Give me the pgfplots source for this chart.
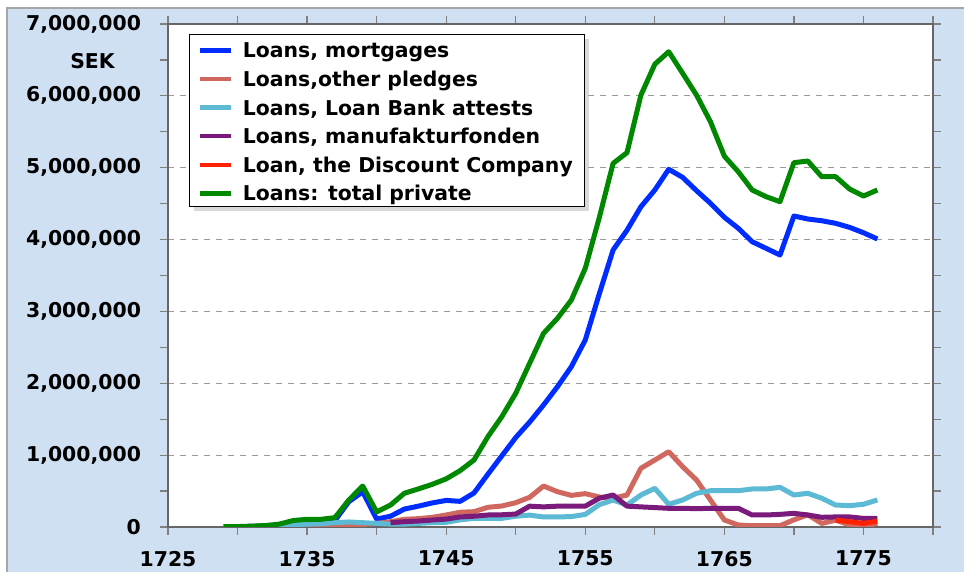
\documentclass[border=0pt]{standalone}
\usepackage{pgfplots}
\pgfplotsset{compat=1.18}
\usepackage{fontspec}
\setmainfont{DejaVu Sans}
\usetikzlibrary{shadows}

\definecolor{bgblue}{RGB}{207,224,242}
\definecolor{cMort}{RGB}{0,45,255}
\definecolor{cPledge}{RGB}{208,104,96}
\definecolor{cAttest}{RGB}{92,186,212}
\definecolor{cManu}{RGB}{122,26,122}
\definecolor{cDisc}{RGB}{255,34,0}
\definecolor{cTotal}{RGB}{0,136,0}

\begin{document}
\begin{tikzpicture}
\useasboundingbox (0,0) rectangle (482pt,286pt);
\fill[white] (0,0) rectangle (482pt,286pt);
\fill[bgblue] (3.5pt,0) rectangle (482pt,282pt);
\draw[gray!70, line width=0.8pt] (3.5pt,0) -- (3.5pt,282pt) -- (482pt,282pt);

\begin{axis}[
    at={(84pt,22.5pt)}, anchor=south west,
    scale only axis,
    width=382.5pt, height=251.5pt,
    xmin=1725, xmax=1780,
    ymin=0, ymax=7000000,
    xtick={1725,1735,...,1775},
    minor xtick={1730,1740,...,1780},
    ytick={0,1000000,...,7000000},
    minor ytick={500000,1500000,...,6500000},
    tick align=outside,
    major tick length=4pt, minor tick length=4pt,
    tick style={gray, line width=0.6pt},
    axis line style={gray!80!black, line width=0.6pt},
    axis background/.style={fill=white},
    ymajorgrids=true,
    grid style={dashed, gray!80, line width=0.5pt},
    scaled y ticks=false,
    ticklabel style={font=\fontsize{10.2}{12}\selectfont\bfseries},
    xticklabel style={/pgf/number format/.cd, fixed, 1000 sep={}, assume math mode=true, /tikz/.cd, yshift=-4.5pt},
    yticklabel style={/pgf/number format/.cd, fixed, 1000 sep={,}, assume math mode=true, /tikz/.cd, xshift=-6pt},
    legend cell align=left,
    legend style={
        at={(0.0275,0.98)}, anchor=north west,
        draw=black, line width=0.5pt, fill=white,
        drop shadow={shadow xshift=2pt, shadow yshift=-2pt, fill=gray!60},
        font=\fontsize{10.2}{12}\selectfont\bfseries,
        inner xsep=4pt, inner ysep=0.15pt,
        row sep=0pt,
        nodes={text height=9.2pt, text depth=0.5pt, inner ysep=2.3pt},
        /tikz/every odd column/.style={column sep=3pt},
    },
    legend image code/.code={\begin{scope}[#1]
        \pgfsetlinewidth{2.2pt}
        \pgfpathmoveto{\pgfpoint{0pt}{-0.6pt}}
        \pgfpathlineto{\pgfpoint{15.5pt}{-0.6pt}}
        \pgfusepath{stroke}\end{scope}},
    every axis plot/.append style={line width=2.5pt, line join=round},
]

% Loans, mortgages
\addplot[cMort] coordinates {
(1729,2000) (1730,4000) (1731,8000) (1732,15000) (1733,25000) (1734,40000)
(1735,50000) (1736,55000) (1737,90000) (1738,352000) (1739,490000) (1740,110000)
(1741,150000) (1742,250000) (1743,290000) (1744,335000) (1745,370000) (1746,357000)
(1747,473000) (1748,735000) (1749,990000) (1750,1245000) (1751,1460000) (1752,1698000)
(1753,1952000) (1754,2231000) (1755,2602000) (1756,3240000) (1757,3855000) (1758,4130000)
(1759,4457000) (1760,4690000) (1761,4978000) (1762,4866000) (1763,4680000) (1764,4505000)
(1765,4310000) (1766,4157000) (1767,3970000) (1768,3878000) (1769,3785000) (1770,4328000)
(1771,4286000) (1772,4262000) (1773,4226000) (1774,4170000) (1775,4095000) (1776,4008000)
};
\addlegendentry{Loans, mortgages}

% Loans, other pledges
\addplot[cPledge] coordinates {
(1729,1000) (1730,2000) (1731,3000) (1732,4000) (1733,5000) (1734,7000)
(1735,10000) (1736,12000) (1737,20000) (1738,30000) (1739,35000) (1740,50000)
(1741,74000) (1742,107000) (1743,116000) (1744,135000) (1745,167000) (1746,205000)
(1747,213000) (1748,274000) (1749,292000) (1750,338000) (1751,413000) (1752,570000)
(1753,491000) (1754,440000) (1755,464000) (1756,418000) (1757,400000) (1758,445000)
(1759,817000) (1760,932000) (1761,1048000) (1762,839000) (1763,654000) (1764,376000)
(1765,97000) (1766,28000) (1767,18000) (1768,18000) (1769,18000) (1770,100000)
(1771,170000) (1772,50000) (1773,95000) (1774,30000) (1775,15000) (1776,50000)
};
\addlegendentry{Loans,other pledges}

% Loans, Loan Bank attests
\addplot[cAttest] coordinates {
(1729,3000) (1730,5000) (1731,8000) (1732,12000) (1733,20000) (1734,30000)
(1735,40000) (1736,45000) (1737,60000) (1738,70000) (1739,60000) (1740,50000)
(1741,40000) (1742,40000) (1743,50000) (1744,60000) (1745,65000) (1746,100000)
(1747,120000) (1748,120000) (1749,120000) (1750,150000) (1751,165000) (1752,140000)
(1753,140000) (1754,145000) (1755,175000) (1756,310000) (1757,376000) (1758,306000)
(1759,445000) (1760,538000) (1761,316000) (1762,376000) (1763,469000) (1764,505000)
(1765,505000) (1766,505000) (1767,529000) (1768,529000) (1769,552000) (1770,445000)
(1771,469000) (1772,400000) (1773,306000) (1774,297000) (1775,316000) (1776,376000)
};
\addlegendentry{Loans, Loan Bank attests}

% Loans, manufakturfonden
\addplot[cManu] coordinates {
(1741,60000) (1742,74000) (1743,83000) (1744,97000) (1745,110000) (1746,140000)
(1747,150000) (1748,167000) (1749,170000) (1750,180000) (1751,290000) (1752,280000)
(1753,290000) (1754,290000) (1755,290000) (1756,400000) (1757,445000) (1758,290000)
(1759,280000) (1760,270000) (1761,260000) (1762,260000) (1763,255000) (1764,260000)
(1765,260000) (1766,260000) (1767,167000) (1768,167000) (1769,176000) (1770,190000)
(1771,167000) (1772,135000) (1773,140000) (1774,140000) (1775,120000) (1776,120000)
};
\addlegendentry{Loans, manufakturfonden}

% Loan, the Discount Company
\addplot[cDisc] coordinates {
(1773,97000) (1774,74000) (1775,50000) (1776,80000)
};
\addlegendentry{Loan, the Discount Company}

% Loans: total private
\addplot[cTotal] coordinates {
(1729,4000) (1730,6000) (1731,12000) (1732,20000) (1733,40000) (1734,90000)
(1735,107000) (1736,107000) (1737,130000) (1738,376000) (1739,570000) (1740,210000)
(1741,306000) (1742,470000) (1743,530000) (1744,594000) (1745,670000) (1746,784000)
(1747,932000) (1748,1257000) (1749,1535000) (1750,1860000) (1751,2278000) (1752,2695000)
(1753,2904000) (1754,3159000) (1755,3600000) (1756,4300000) (1757,5060000) (1758,5210000)
(1759,6010000) (1760,6440000) (1761,6614000) (1762,6314000) (1763,6010000) (1764,5640000)
(1765,5160000) (1766,4944000) (1767,4690000) (1768,4597000) (1769,4527000) (1770,5070000)
(1771,5093000) (1772,4875000) (1773,4875000) (1774,4704000) (1775,4606000) (1776,4690000)
};
\addlegendentry{Loans: total private}
\end{axis}

\node[font=\fontsize{10.2}{12}\selectfont\bfseries] at (46.25pt,255.5pt) {SEK};
\end{tikzpicture}
\end{document}
